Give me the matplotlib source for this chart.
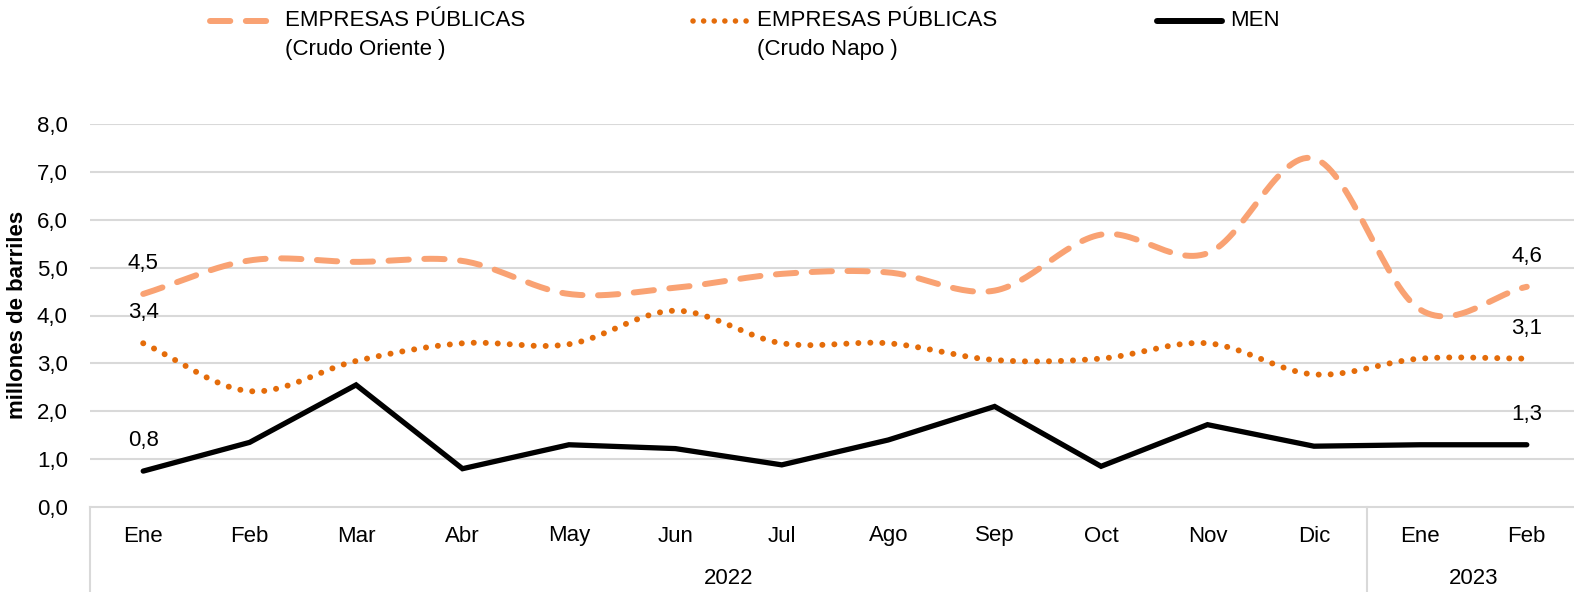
import numpy as np
import matplotlib
matplotlib.use("Agg")
import matplotlib.pyplot as plt
from matplotlib.lines import Line2D
import matplotlib.transforms as mtransforms

plt.rcParams['font.family'] = ['Liberation Sans Narrow', 'Liberation Sans', 'DejaVu Sans']

months = ["Ene", "Feb", "Mar", "Abr", "May", "Jun", "Jul", "Ago", "Sep", "Oct", "Nov", "Dic", "Ene", "Feb"]
years = ["2022", "2023"]
year_counts = [12, 2]
oriente = [4.45, 5.15, 5.12, 5.14, 4.45, 4.58, 4.87, 4.9, 4.52, 5.69, 5.3, 7.28, 4.12, 4.6]
napo = [3.42, 2.42, 3.05, 3.42, 3.4, 4.1, 3.42, 3.42, 3.07, 3.1, 3.42, 2.77, 3.1, 3.1]
men = [0.75, 1.35, 2.55, 0.8, 1.3, 1.22, 0.88, 1.4, 2.1, 0.85, 1.72, 1.27, 1.3, 1.3]
labels_first = ["4,5", "3,4", "0,8"]
labels_last = ["4,6", "3,1", "1,3"]
legend_names = ["EMPRESAS PÚBLICAS\n(Crudo Oriente )", "EMPRESAS PÚBLICAS\n(Crudo Napo )", "MEN"]

c_or = "#F9A273"
c_na = "#E46C0A"
c_men = "#000000"
grid_c = "#D9D9D9"
FS = 16

def smooth(y, n=30):
    y = np.asarray(y, float)
    x = np.arange(len(y), dtype=float)
    P = np.column_stack([x, y])
    ext = np.vstack([P[0] - (P[1] - P[0]), P, P[-1] + (P[-1] - P[-2])])
    out = []
    for i in range(1, len(ext) - 2):
        p0, p1, p2, p3 = ext[i - 1], ext[i], ext[i + 1], ext[i + 2]
        b1 = p1 + (p2 - p0) / 6.0
        b2 = p2 - (p3 - p1) / 6.0
        t = np.linspace(0, 1, n, endpoint=(i == len(ext) - 3))[:, None]
        seg = ((1 - t) ** 3) * p1 + 3 * ((1 - t) ** 2) * t * b1 + 3 * (1 - t) * t ** 2 * b2 + t ** 3 * p2
        out.append(seg)
    out = np.vstack(out)
    return out[:, 0], out[:, 1]

W, H = 1574, 592
fig = plt.figure(figsize=(W / 100, H / 100), dpi=100)
left_px, right_px, top_px, bot_px = 90, 1580, 124, 507
ax = fig.add_axes([left_px / W, 1 - bot_px / H, (right_px - left_px) / W, (bot_px - top_px) / H])

x = np.arange(len(months))
ax.set_xlim(-0.5, len(months) - 0.5)
ax.set_ylim(0, 8)
ax.set_yticks(np.arange(0, 9, 1))
ax.set_yticklabels([f"{v:.1f}".replace(".", ",") for v in np.arange(0, 9, 1)], fontsize=FS)
ax.tick_params(axis='y', length=0, pad=16)
ax.set_xticks([])
for v in range(1, 9):
    ax.axhline(v, color=grid_c, lw=1.5, zorder=0)
for s in ["top", "right", "left"]:
    ax.spines[s].set_visible(False)
ax.spines["bottom"].set_color(grid_c)
ax.spines["bottom"].set_linewidth(1.5)

lw_or = 4.3
xs, ys = smooth(oriente)
ax.plot(xs, ys, color=c_or, lw=lw_or, linestyle=(0, (3.4, 2.6)), dash_capstyle='round', solid_capstyle='round')
xs, ys = smooth(napo)
ax.plot(xs, ys, color=c_na, lw=4.3, linestyle=(0, (0.01, 2.0)), dash_capstyle='round')
ax.plot(x, men, color=c_men, lw=3.8, solid_capstyle='round', solid_joinstyle='miter')

for ser, lf, ll in zip([oriente, napo, men], labels_first, labels_last):
    ax.annotate(lf, (x[0], ser[0]), xytext=(0, 22), textcoords='offset points', ha='center', va='center', fontsize=FS)
    ax.annotate(ll, (x[-1], ser[-1]), xytext=(0, 22), textcoords='offset points', ha='center', va='center', fontsize=FS)

# category axis
trans = mtransforms.blended_transform_factory(ax.transData, fig.transFigure)
for i, m in enumerate(months):
    ax.text(i, 1 - 536 / H, m, transform=trans, fontsize=FS, ha='center', va='center')
start = 0
for yr, cnt in zip(years, year_counts):
    center = start + (cnt - 1) / 2
    ax.text(center, 1 - 578 / H, yr, transform=trans, fontsize=FS, ha='center', va='center')
    b = start - 0.5
    ax.add_line(Line2D([b, b], [1 - bot_px / H, 0], transform=trans, color=grid_c, lw=1.5, clip_on=False))
    start += cnt

fig.text(18 / W, 1 - 315 / H, "millones de barriles", rotation=90, fontsize=FS, fontweight='bold', ha='center', va='center')

# legend
leg = [
    (210, 272, 285, dict(color=c_or, lw=lw_or, linestyle=(0, (3.4, 2.6)), dash_capstyle='round')),
    (693, 748, 757, dict(color=c_na, lw=4.0, linestyle=(0, (0.01, 1.9)), dash_capstyle='round')),
    (1157, 1222, 1230, dict(color=c_men, lw=4.3, solid_capstyle='round')),
]
for (x0, x1, tx, kw), name in zip(leg, legend_names):
    fig.add_artist(Line2D([x0 / W, x1 / W], [1 - 21 / H, 1 - 21 / H], transform=fig.transFigure, **kw))
    lines = name.split("\n")
    for k, ln in enumerate(lines):
        fig.text(tx / W, 1 - (21 + 29 * k) / H, ln, fontsize=FS, ha='left', va='center')

fig.savefig("out.png", dpi=100)
